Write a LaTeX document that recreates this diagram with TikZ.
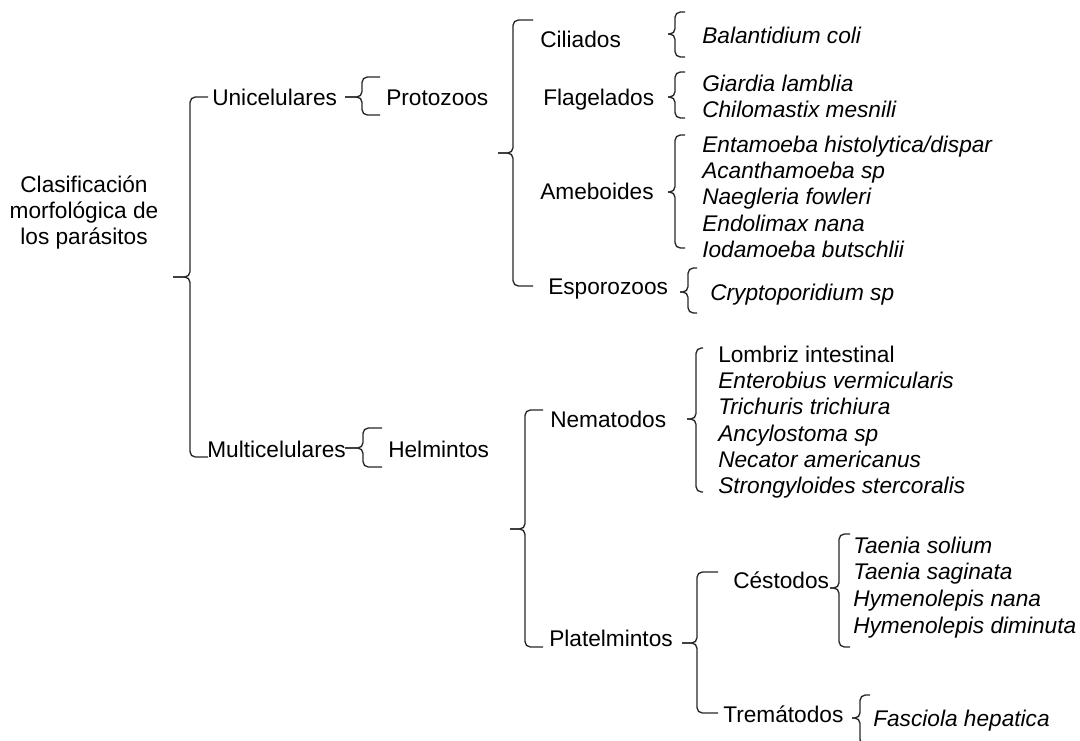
\documentclass[tikz,border=0pt]{standalone}
\usepackage{fontspec}
\setmainfont{Liberation Sans}

\tikzset{
  lbl/.style={anchor=base west, inner sep=0pt, font=\fontsize{17}{19.5}\selectfont},
  sp/.style={lbl, font=\fontsize{17}{19.5}\selectfont\itshape},
  brc/.style={draw=black!85, line width=1pt, rounded corners=4pt}
}
% brace: name, tip x, tip y, vertical x, top y, bottom y, end x
\newcommand{\brc}[7]{%
  \coordinate (#1) at (#2,#3);
  \draw[brc] (#7,#5) -- (#4,#5) -- (#4,#3) -- (#1);
  \draw[brc] (#7,#6) -- (#4,#6) -- (#4,#3) -- (#1);
}

\begin{document}
\begin{tikzpicture}[x=0.75pt, y=-0.75pt]
    \useasboundingbox (0,0) rectangle (1080,740);
    \node[align=center, inner sep=0pt, font=\fontsize{17}{19.5}\selectfont] (root) at (84,212) {Clasificación\\morfológica de\\los parásitos};
    \node[lbl] (uni) at (212,105) {Unicelulares};
    \node[lbl] (multi) at (207,457) {Multicelulares};
    \node[lbl] (proto) at (386,105) {Protozoos};
    \node[lbl] (helm) at (388,457) {Helmintos};
    % protozoos
    \node[lbl] (cil) at (540,47) {Ciliados};
    \node[lbl] (flag) at (543,105) {Flagelados};
    \node[lbl] (ameb) at (540,199) {Ameboides};
    \node[lbl] (espo) at (548,294) {Esporozoos};
    \node[sp] (bcoli) at (702,43) {Balantidium coli};
    \node[sp] (giardia) at (702,91) {Giardia lamblia};
    \node[sp] (chilo) at (702,117) {Chilomastix mesnili};
    \node[sp] (entam) at (702,152) {Entamoeba histolytica/dispar};
    \node[sp] (acanth) at (702,178) {Acanthamoeba sp};
    \node[sp] (naeg) at (702,204) {Naegleria fowleri};
    \node[sp] (endol) at (702,231) {Endolimax nana};
    \node[sp] (iodam) at (702,257) {Iodamoeba butschlii};
    \node[sp] (crypto) at (710,300) {Cryptoporidium sp};
    % helmintos
    \node[lbl] (nema) at (550,427) {Nematodos};
    \node[lbl] (plat) at (549,646) {Platelmintos};
    \node[lbl] (lombriz) at (718,362) {Lombriz intestinal};
    \node[sp] (entero) at (718,388) {Enterobius vermicularis};
    \node[sp] (trich) at (718,414) {Trichuris trichiura};
    \node[sp] (ancyl) at (718,441) {Ancylostoma sp};
    \node[sp] (necator) at (718,467) {Necator americanus};
    \node[sp] (strong) at (718,493) {Strongyloides stercoralis};
    \node[lbl] (cest) at (733,588) {Céstodos};
    \node[lbl] (trem) at (723,722) {Tremátodos};
    \node[sp] (tsol) at (853,553) {Taenia solium};
    \node[sp] (tsag) at (853,579) {Taenia saginata};
    \node[sp] (hnana) at (853,606) {Hymenolepis nana};
    \node[sp] (hdim) at (853,633) {Hymenolepis diminuta};
    \node[sp] (fasc) at (873,726) {Fasciola hepatica};
    % braces
    \brc{b-root}{173}{277}{190}{97}{457}{208}
    \brc{b-uni}{345}{97}{362}{77}{115}{380}
    \brc{b-multi}{345}{448}{363}{428}{467}{382}
    \brc{b-proto}{498}{153}{513}{20}{286}{533}
    \brc{b-cil}{668}{34}{675}{12}{57}{685}
    \brc{b-flag}{668}{97}{675}{72}{118}{685}
    \brc{b-ameb}{668}{192}{675}{135}{248}{685}
    \brc{b-espo}{680}{292}{688}{268}{313}{697}
    \brc{b-helm}{510}{529}{525}{410}{647}{543}
    \brc{b-nema}{687}{419}{696}{348}{492}{703}
    \brc{b-plat}{682}{643}{697}{572}{713}{718}
    \brc{b-cest}{830}{588}{839}{534}{647}{850}
    \brc{b-trem}{852}{718}{860}{695}{745}{870}
  \end{tikzpicture}
\end{document}
